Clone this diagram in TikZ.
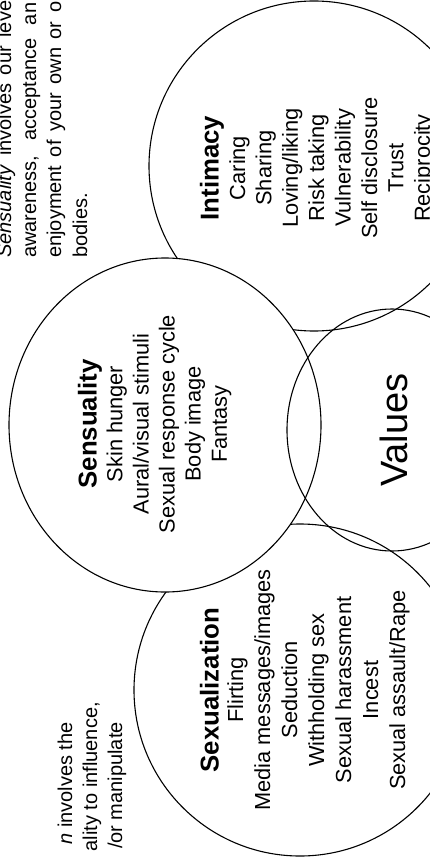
\documentclass[tikz,border=0pt]{standalone}
\usepackage{fontspec}
\setmainfont{Liberation Sans}
\begin{document}
\begin{tikzpicture}[x=1pt,y=-1pt,
  ring/.style={draw=black,line width=1.1pt},
  bodytext/.style={rotate=90,anchor=base,inner sep=0pt,font=\fontsize{21.8}{26}\selectfont},
  headtext/.style={rotate=90,anchor=base,inner sep=0pt,font=\fontsize{25.8}{30}\selectfont\bfseries},
  paratext/.style={rotate=90,inner sep=0pt,font=\fontsize{20}{25}\selectfont},
  bigtext/.style={rotate=90,anchor=base,inner sep=0pt,font=\fontsize{38}{44}\selectfont}]
\useasboundingbox (0,0) rectangle (430,858);
\clip (0,0) rectangle (430,858);
\fill[white] (0,0) rectangle (430,858);
% circles
\draw[ring] (314,166) circle[radius=165pt];
\draw[ring] (300,690) circle[radius=166pt];
\filldraw[ring,fill=white] (165,425) ellipse[x radius=156pt,y radius=167pt];
\draw[ring] (392,430) ellipse[x radius=105pt,y radius=121pt];
% Intimacy
\node[headtext] (inthead) at (218.6,168) {Intimacy};
\foreach \txt [count=\i] in {Caring,Sharing,Loving/liking,Risk taking,Vulnerability,Self disclosure,Trust,Reciprocity}
  \node[bodytext] (int\i) at ({245+26.4*(\i-1)},168) {\txt};
% Sensuality
\node[headtext] (senhead) at (96.6,424) {Sensuality};
\foreach \txt [count=\i] in {Skin hunger,Aural/visual stimuli,Sexual response cycle,Body image,Fantasy}
  \node[bodytext] (sen\i) at ({122.4+26.1*(\i-1)},424) {\txt};
% Sexualization
\node[headtext] (sexhead) at (218.6,690) {Sexualization};
\foreach \txt [count=\i] in {Flirting,Media messages/images,Seduction,Withholding sex,Sexual harassment,Incest,Sexual assault/Rape}
  \node[bodytext] (sex\i) at ({243+27*(\i-1)},690) {\txt};
% Values
\node[bigtext] (values) at (407,430) {Values};
% paragraphs
\node[paratext,anchor=base west] (sp1) at (11,258) {\makebox[257pt][s]{\textit{Sensuality} involves our leve}};
\node[paratext,anchor=base west] (sp2) at (36,258) {\makebox[255pt][s]{awareness, acceptance an}};
\node[paratext,anchor=base west] (sp3) at (61,258) {\makebox[256pt][s]{enjoyment of your own or o}};
\node[paratext,anchor=base west] (sp4) at (87,258) {bodies.};
\node[paratext,anchor=base east] (xp1) at (72,722) {\textit{n} involves the};
\node[paratext,anchor=base east] (xp2) at (97,702) {ality to influence,};
\node[paratext,anchor=base east] (xp3) at (122,722) {/or manipulate};
\end{tikzpicture}
\end{document}
